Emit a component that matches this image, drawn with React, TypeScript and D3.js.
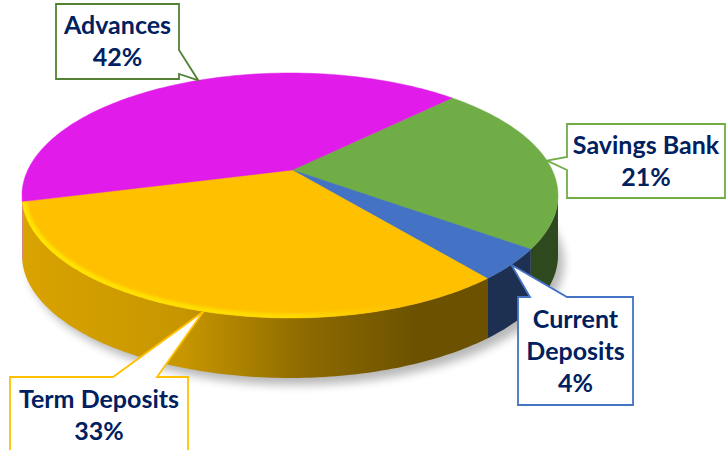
import { useMemo } from 'react'
import * as d3 from 'd3'

const categories = ['Savings Bank', 'Current Deposits', 'Term Deposits', 'Advances']
const shares = [21, 4, 33, 42]
const sliceColors = ['#70AD47', '#4472C4', '#FFC000', '#E11BE9']
const labelLines = [['Savings Bank'], ['Current', 'Deposits'], ['Term Deposits'], ['Advances']]
const calloutBorders = ['#70AD47', '#4472C4', '#FFC000', '#548235']

const W = 726
const H = 450
// top ellipse of the disc, the point where the slices meet, and disc thickness
const CX = 290
const CY = 195.5
const RX = 268
const RY = 122.5
const APEX: [number, number] = [292, 170]
const TILT = 0.5
const DEPTH = 60
const START = 48 // degrees, clockwise from 12 o'clock

// callout boxes, wedge base sits on one of the box edges
const boxes = [
  { x: 567, y: 124, w: 158, h: 74, base: [[567, 157], [567, 170]] },
  { x: 518, y: 297, w: 115, h: 108, base: [[530, 297], [567, 297]] },
  { x: 10, y: 377, w: 178, h: 76, base: [[113, 377], [157, 377]] },
  { x: 56, y: 4, w: 123, h: 75, base: [[179, 50], [179, 74]] },
]

const FONT = 25
const LINE = 32

// where a ray leaving the apex at pie angle a (radians) meets the top rim
function rimT(a: number) {
  const dx = Math.sin(a)
  const dy = -Math.cos(a) * TILT
  const ox = (APEX[0] - CX) / RX
  const oy = (APEX[1] - CY) / RY
  const ux = dx / RX
  const uy = dy / RY
  const A = ux * ux + uy * uy
  const B = 2 * (ox * ux + oy * uy)
  const C = ox * ox + oy * oy - 1
  const s = (-B + Math.sqrt(B * B - 4 * A * C)) / (2 * A)
  const x = APEX[0] + s * dx
  const y = APEX[1] + s * dy
  return Math.atan2((y - CY) / RY, (x - CX) / RX)
}

const rim = (t: number, dy = 0): [number, number] => [CX + RX * Math.cos(t), CY + RY * Math.sin(t) + dy]

function arcPoints(t0: number, t1: number, dy = 0) {
  const n = Math.max(2, Math.ceil(Math.abs(t1 - t0) / 0.02))
  return d3.range(n + 1).map((i) => rim(t0 + ((t1 - t0) * i) / n, dy))
}

function calloutPath(b: (typeof boxes)[number], tip: [number, number]) {
  const { x, y, w, h } = b
  const [p, q] = b.base
  let pts: number[][] = []
  if (p[1] === y && q[1] === y) {
    const s = [p, q].sort((m, n) => m[0] - n[0])
    pts = [[x, y], s[0], tip, s[1], [x + w, y], [x + w, y + h], [x, y + h]]
  } else if (p[0] === x + w) {
    const s = [p, q].sort((m, n) => m[1] - n[1])
    pts = [[x, y], [x + w, y], s[0], tip, s[1], [x + w, y + h], [x, y + h]]
  } else if (p[0] === x) {
    const s = [p, q].sort((m, n) => n[1] - m[1])
    pts = [[x, y], [x + w, y], [x + w, y + h], [x, y + h], s[0], tip, s[1]]
  } else {
    const s = [p, q].sort((m, n) => n[0] - m[0])
    pts = [[x, y], [x + w, y], [x + w, y + h], s[0], tip, s[1], [x, y + h]]
  }
  return 'M' + pts.map((d) => d.join(',')).join('L') + 'Z'
}

export default function App() {
  const slices = useMemo(() => {
    const pie = d3
      .pie<number>()
      .sort(null)
      .startAngle((START * Math.PI) / 180)
      .endAngle((START * Math.PI) / 180 + 2 * Math.PI)
    return pie(shares).map((arc, i) => {
      let t0 = rimT(arc.startAngle)
      let t1 = rimT(arc.endAngle)
      if (t0 < 0) t0 += 2 * Math.PI
      while (t1 <= t0) t1 += 2 * Math.PI
      const top =
        'M' + APEX.join(',') + 'L' + arcPoints(t0, t1).map((d) => d.join(',')).join('L') + 'Z'
      // front (visible) part of the outer wall
      const sides: string[] = []
      for (const [lo, hi] of [[0, Math.PI], [2 * Math.PI, 3 * Math.PI]]) {
        const a = Math.max(t0, lo)
        const b = Math.min(t1, hi)
        if (b > a) {
          const upper = arcPoints(a, b)
          const lower = arcPoints(b, a, DEPTH)
          sides.push('M' + upper.concat(lower).map((d) => d.join(',')).join('L') + 'Z')
        }
      }
      const front: string[] = []
      for (const [lo, hi] of [[0, Math.PI], [2 * Math.PI, 3 * Math.PI]]) {
        const a = Math.max(t0, lo)
        const b = Math.min(t1, hi)
        if (b > a) front.push('M' + arcPoints(a, b).map((d) => d.join(',')).join('L'))
      }
      const tip = rim(rimT((arc.startAngle + arc.endAngle) / 2))
      return { i, top, sides, front, tip, color: sliceColors[i] }
    })
  }, [])

  const mix = (c: string, t: number) => d3.interpolateRgb(c, '#000')(t)

  return (
    <svg
      width={W}
      height={H}
      viewBox={`0 0 ${W} ${H}`}
      style={{ position: 'absolute', left: 0, top: 0, background: '#fff' }}
      fontFamily="Lato, 'Open Sans', sans-serif"
    >
      <defs>
        <filter id="shadow-blur" x="-20%" y="-20%" width="140%" height="140%">
          <feGaussianBlur stdDeviation={5} />
        </filter>
        <filter id="bevel-blur" x="-10%" y="-10%" width="120%" height="120%">
          <feGaussianBlur stdDeviation={1.6} />
        </filter>
        <linearGradient id="bevel-fade" gradientUnits="userSpaceOnUse" x1={CX - RX} x2={CX + RX} y1={0} y2={0}>
          <stop offset={0} stopColor="#fff" stopOpacity={1} />
          <stop offset={0.5} stopColor="#fff" stopOpacity={0.7} />
          <stop offset={0.72} stopColor="#fff" stopOpacity={0} />
          <stop offset={1} stopColor="#fff" stopOpacity={0} />
        </linearGradient>
        <mask id="bevel-mask">
          <rect x={0} y={0} width={W} height={H} fill="url(#bevel-fade)" />
        </mask>
        {slices.map((s) => (
          <linearGradient
            key={s.i}
            id={`side-${s.i}`}
            gradientUnits="userSpaceOnUse"
            x1={CX - RX}
            x2={CX + RX}
            y1={0}
            y2={0}
          >
            <stop offset={0} stopColor={mix(s.color, 0.15)} />
            <stop offset={0.3} stopColor={mix(s.color, 0.22)} />
            <stop offset={0.52} stopColor={mix(s.color, 0.44)} />
            <stop offset={0.74} stopColor={mix(s.color, 0.58)} />
            <stop offset={1} stopColor={mix(s.color, 0.58)} />
          </linearGradient>
        ))}
        {slices.map((s) => (
          <clipPath key={s.i} id={`top-clip-${s.i}`}>
            <path d={s.top} />
          </clipPath>
        ))}
      </defs>

      {/* soft shadow under the disc */}
      <ellipse
        cx={CX + 6}
        cy={CY + DEPTH + 7}
        rx={RX}
        ry={RY}
        fill="#000"
        opacity={0.28}
        filter="url(#shadow-blur)"
      />

      {slices.map((s) => s.sides.map((d, k) => <path key={`${s.i}-${k}`} d={d} fill={`url(#side-${s.i})`} />))}

      {slices.map((s) => (
        <path key={s.i} d={s.top} fill={s.color} stroke={s.color} strokeWidth={0.5} />
      ))}

      {/* bevel highlight along the front rim */}
      <g mask="url(#bevel-mask)">
        {slices.map((s) => (
          <g key={s.i} clipPath={`url(#top-clip-${s.i})`}>
            {s.front.map((d, k) => (
              <path
                key={k}
                d={d}
                fill="none"
                stroke={d3.color(s.color)!.brighter(0.5).formatHex()}
                strokeWidth={9}
                filter="url(#bevel-blur)"
              />
            ))}
          </g>
        ))}
      </g>

      {/* callouts */}
      {slices.map((s) => {
        const b = boxes[s.i]
        const lines = labelLines[s.i]
        const n = lines.length + 1
        const cx = b.x + b.w / 2
        const cy = b.y + b.h / 2
        const all = [...lines, `${shares[s.i]}%`]
        return (
          <g key={s.i}>
            <path
              d={calloutPath(b, s.tip)}
              fill="#fff"
              stroke={calloutBorders[s.i]}
              strokeWidth={1.8}
              strokeLinejoin="miter"
            >
              <title>{categories[s.i]}</title>
            </path>
            {all.map((t, k) => (
              <text
                key={k}
                x={cx}
                y={cy + (k - (n - 1) / 2) * LINE + 8.5}
                textAnchor="middle"
                fontSize={FONT}
                fontWeight={700}
                fill="#002060"
              >
                {t}
              </text>
            ))}
          </g>
        )
      })}
    </svg>
  )
}
